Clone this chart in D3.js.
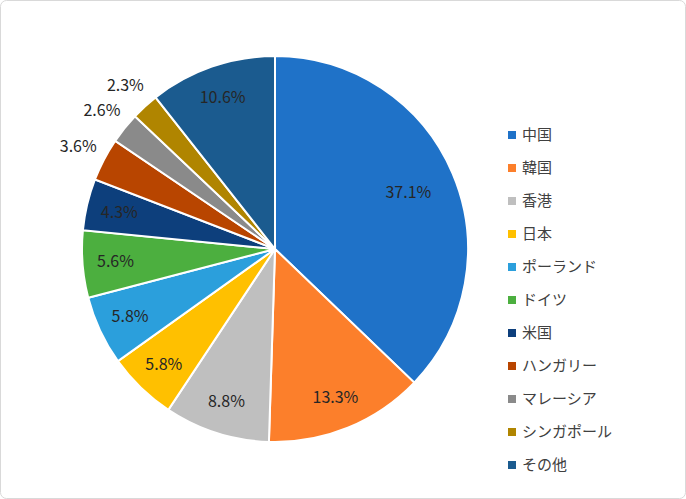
<!DOCTYPE html>
<html><head><meta charset="utf-8">
<script src="https://cdn.jsdelivr.net/npm/d3@7"></script>
<style>body{margin:0;background:#fff}</style>
</head><body>
<script>
const categories = ["中国","韓国","香港","日本","ポーランド","ドイツ","米国","ハンガリー","マレーシア","シンガポール","その他"];
const values = [37.1,13.3,8.8,5.8,5.8,5.6,4.3,3.6,2.6,2.3,10.6];
const colors = ["#1f72c8","#fc7f2b","#bfbfbf","#ffc000","#2b9fdc","#4caf3f","#0d3f7c","#b84500","#8a8a8a","#b08500","#1b5b8f"];

const W = 686, H = 499, cx = 275, cy = 249, r = 193;
const font = "'Noto Sans CJK JP', 'DejaVu Sans', sans-serif";
const svg = d3.select("body").append("svg").attr("width", W).attr("height", H);
svg.append("rect").attr("x",0.5).attr("y",0.5).attr("width",W-1).attr("height",H-1)
  .attr("rx",6).attr("fill","#fff").attr("stroke","#d9d9d9");

const pie = d3.pie().sort(null).value(d => d);
const arcs = pie(values);
const arc = d3.arc().innerRadius(0).outerRadius(r);
const g = svg.append("g").attr("transform", `translate(${cx},${cy})`);
g.selectAll("path").data(arcs).enter().append("path")
  .attr("d", arc).attr("fill", (d,i) => colors[i])
  .attr("stroke", "#fff").attr("stroke-width", 2);

g.selectAll("text").data(arcs).enter().append("text")
  .attr("transform", d => {
    const a = (d.startAngle + d.endAngle) / 2;
    const rr = d.data < 4 ? 222 : (d.data > 30 ? 145 : 160);
    return `translate(${rr*Math.sin(a)},${-rr*Math.cos(a)})`;
  })
  .attr("text-anchor","middle").attr("dy","0.35em")
  .attr("font-family", font).attr("font-size", 16).attr("fill","#262626")
  .text(d => d.data.toFixed(1) + "%");

const leg = svg.append("g").attr("transform","translate(508,135)");
const items = leg.selectAll("g").data(categories).enter().append("g")
  .attr("transform",(d,i)=>`translate(0,${i*33})`);
items.append("rect").attr("x",0).attr("y",-4).attr("width",8).attr("height",8)
  .attr("fill",(d,i)=>colors[i]);
items.append("text").attr("x",14).attr("dy","0.35em")
  .attr("font-family",font).attr("font-size",15).attr("fill","#404040").text(d=>d);
</script>
</body></html>
